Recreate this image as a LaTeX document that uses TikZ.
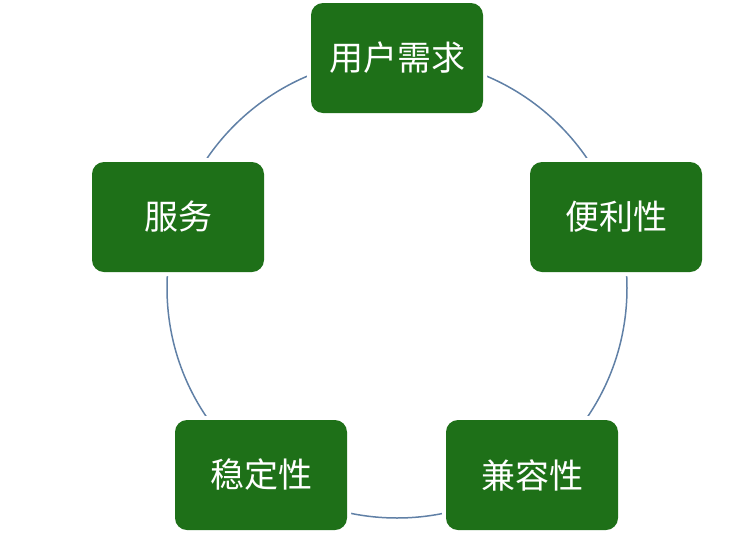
\documentclass[tikz,border=0pt]{standalone}
\usepackage{fontspec}
\newfontfamily\cjk{Noto Sans CJK SC}
\definecolor{boxgreen}{RGB}{30,112,24}
\definecolor{arcblue}{RGB}{96,128,166}
\begin{document}
\begin{tikzpicture}[x=1pt,y=-1pt,
  stage/.style={rectangle, rounded corners=12pt, fill=boxgreen,
    minimum width=172pt, minimum height=110pt, inner sep=0pt,
    text=white, font=\cjk\fontsize{34}{38}\selectfont,
    preaction={draw=white, line width=8pt}}]
\useasboundingbox (0,0) rectangle (740,539);
\coordinate (c) at (397,288);
\draw[arcblue, line width=1.5pt] (c) circle (230);
\node[stage] (need) at (397,58) {用户需求};
\node[stage] (conv) at (616,217) {便利性};
\node[stage] (comp) at (532,475) {兼容性};
\node[stage] (stab) at (261,475) {稳定性};
\node[stage] (serv) at (178,217) {服务};
\end{tikzpicture}
\end{document}
